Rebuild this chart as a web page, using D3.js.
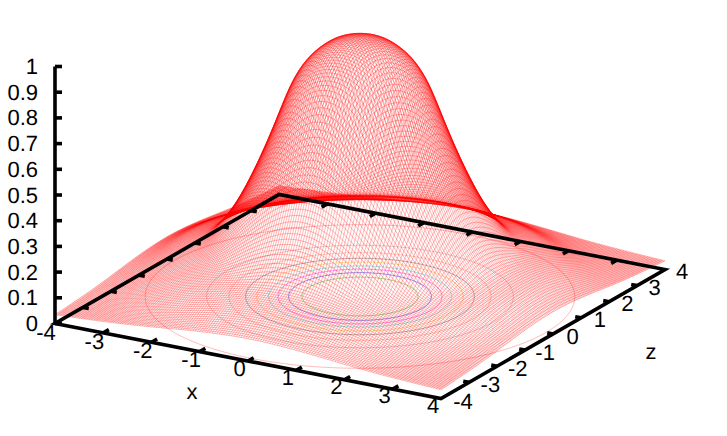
<!DOCTYPE html>
<html>
<head>
<meta charset="utf-8">
<style>
  html, body { margin: 0; background: #fff; }
  svg { display: block; }
  text { font-family: "Liberation Sans", Arial, sans-serif; font-size: 22px; fill: #000; text-rendering: geometricPrecision; }
</style>
<script src="https://cdn.jsdelivr.net/npm/d3@7"></script>
</head>
<body>
<div id="chart"></div>
<script>
// Tick values on the three axes
const xTicks = [-4, -3, -2, -1, 0, 1, 2, 3, 4];
const zTicks = [-4, -3, -2, -1, 0, 1, 2, 3, 4];
const heightTicks = [0, 0.1, 0.2, 0.3, 0.4, 0.5, 0.6, 0.7, 0.8, 0.9, 1];

const radiusStep = 0.25;
const heightProfile = [
  1.01, 1.005, 0.99, 0.955, 0.905, 0.82, 0.68, 0.55, 0.435, 0.335, 0.26, 0.2,
  0.175, 0.155, 0.135, 0.108, 0.085, 0.07, 0.058, 0.05, 0.044, 0.04, 0.036, 0.033,
];

// Contour rings on the base plane, inner to outer
const contourRadii = [1.04, 1.28, 1.47, 1.64, 1.85, 2.05, 2.35, 2.75, 3.85];
const contourColors = ["#00c000", "#0000ff", "#ff00ff", "#00e0e0", "#ffc000", "#505050", "#ff9060", "#c09090", "#ff6060"];

const width = 727;
const height = 436;

// Parallel projection: each data axis adds its own screen offset
const xScreenX = d3.scaleLinear().domain([-4, 4]).range([0, 386]);
const xScreenY = d3.scaleLinear().domain([-4, 4]).range([0, 75]);
const zScreenX = d3.scaleLinear().domain([-4, 4]).range([0, 224]);
const zScreenY = d3.scaleLinear().domain([-4, 4]).range([0, -129]);
const hScreenY = d3.scaleLinear().domain([0, 1]).range([0, -257]);
const originX = 55;
const originY = 323.5;

function project(x, z, h) {
  return [
    originX + xScreenX(x) + zScreenX(z),
    originY + xScreenY(x) + zScreenY(z) + hScreenY(h),
  ];
}

// Smooth lookup in the profile table
const profileLookup = d3.interpolateBasis(heightProfile);
function surfaceHeight(x, z) {
  const r = Math.sqrt(x * x + z * z);
  return profileLookup(r / (radiusStep * (heightProfile.length - 1)));
}

const svg = d3.select("#chart").append("svg")
  .attr("width", width)
  .attr("height", height);

const line = d3.line();

// Contours on the base
const angles = d3.range(0, 361, 3).map((d) => (d * Math.PI) / 180);
svg.append("g")
  .selectAll("path")
  .data(contourRadii)
  .join("path")
  .attr("fill", "none")
  .attr("stroke", (d, i) => contourColors[i])
  .attr("stroke-width", 0.7)
  .attr("stroke-opacity", 0.6)
  .attr("d", (r) => line(angles
    .map((a) => [r * Math.cos(a), r * Math.sin(a)])
    .map(([x, z]) => project(x, z, 0))));

// Surface mesh, no hidden line removal
const samples = d3.range(0, 161).map((i) => -4 + i * 0.05);
const mesh = svg.append("g")
  .attr("fill", "none")
  .attr("stroke", "#ff0000")
  .attr("stroke-width", 0.28);

mesh.selectAll(".along-x")
  .data(samples)
  .join("path")
  .attr("class", "along-x")
  .attr("d", (z) => line(samples.map((x) => project(x, z, surfaceHeight(x, z)))));

mesh.selectAll(".along-z")
  .data(samples)
  .join("path")
  .attr("class", "along-z")
  .attr("d", (x) => line(samples.map((z) => project(x, z, surfaceHeight(x, z)))));

// Frame on the base plane
const frame = svg.append("g")
  .attr("fill", "none")
  .attr("stroke", "#000")
  .attr("stroke-width", 3.6)
  .attr("stroke-linejoin", "miter");

frame.append("path")
  .attr("d", line([project(-4, -4, 0), project(4, -4, 0), project(4, 4, 0), project(-4, 4, 0)]) + "Z");

frame.append("path")
  .attr("d", line([project(-4, -4, 0), project(-4, -4, 1)]));

// Ticks on all four base edges, pointing inward
const tickLen = 0.2;
frame.selectAll(".x-tick")
  .data(xTicks.slice(1, -1))
  .join("path")
  .attr("class", "x-tick")
  .attr("d", (x) => line([project(x, -4, 0), project(x, -4 + tickLen, 0)]) +
    line([project(x, 4, 0), project(x, 4 - tickLen, 0)]));

frame.selectAll(".z-tick")
  .data(zTicks.slice(1, -1))
  .join("path")
  .attr("class", "z-tick")
  .attr("d", (z) => line([project(-4, z, 0), project(-4 + tickLen * 0.6, z, 0)]) +
    line([project(4, z, 0), project(4 - tickLen * 0.6, z, 0)]));

frame.selectAll(".h-tick")
  .data(heightTicks)
  .join("path")
  .attr("class", "h-tick")
  .attr("d", (h) => {
    const [px, py] = project(-4, -4, h);
    return line([[px, py], [px + 7, py]]);
  });

// Tick labels, placed with their own offsets from the frame
const xLabelX = d3.scaleLinear().domain([-4, 4]).range([46, 433]);
const xLabelY = d3.scaleLinear().domain([-4, 4]).range([332, 405]);
const zLabelX = d3.scaleLinear().domain([-4, 4]).range([463, 682]);
const zLabelY = d3.scaleLinear().domain([-4, 4]).range([401, 271]);
const capShift = 7.5;

svg.append("g").selectAll("text")
  .data(heightTicks)
  .join("text")
  .attr("x", 38)
  .attr("y", (h) => project(-4, -4, h)[1] + capShift)
  .attr("text-anchor", "end")
  .text((h) => h);

svg.append("g").selectAll("text")
  .data(xTicks)
  .join("text")
  .attr("x", (x) => xLabelX(x))
  .attr("y", (x) => xLabelY(x) + capShift)
  .attr("text-anchor", "middle")
  .text((x) => x);

svg.append("g").selectAll("text")
  .data(zTicks)
  .join("text")
  .attr("x", (z) => zLabelX(z))
  .attr("y", (z) => zLabelY(z) + capShift)
  .attr("text-anchor", "middle")
  .text((z) => z);

// Axis titles
svg.append("text").attr("x", 192).attr("y", 399).attr("text-anchor", "middle").text("x");
svg.append("text").attr("x", 651).attr("y", 359).attr("text-anchor", "middle").text("z");
</script>
</body>
</html>
